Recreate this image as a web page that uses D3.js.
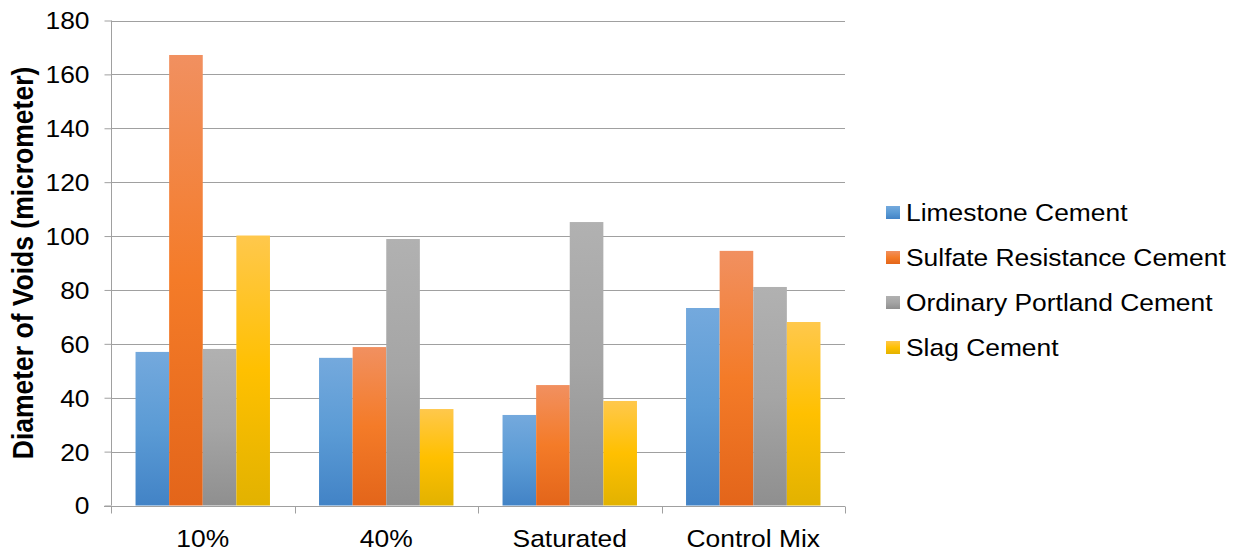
<!DOCTYPE html>
<html>
<head>
<meta charset="utf-8">
<script src="https://cdn.jsdelivr.net/npm/d3@7"></script>
<style>
  html, body { margin: 0; padding: 0; background: #fff; }
  svg { display: block; }
  text { font-family: "Liberation Sans", Arial, sans-serif; fill: #000; }
</style>
</head>
<body>
<svg id="chart" width="1243" height="550"></svg>
<script>
// Mix conditions along the x axis
const categories = ["10%", "40%", "Saturated", "Control Mix"];
// Cement types (legend order)
const seriesNames = ["Limestone Cement", "Sulfate Resistance Cement", "Ordinary Portland Cement", "Slag Cement"];
// Void diameters (micrometer), one array per cement type, in category order
const limestone = [57, 54.8, 33.6, 73.3];
const sulfate   = [167.2, 58.8, 44.7, 94.5];
const portland  = [58.1, 98.9, 105.2, 81.1];
const slag      = [100.2, 35.8, 38.8, 68.1];
const yTicks = [0, 20, 40, 60, 80, 100, 120, 140, 160, 180];
const yTitle = "Diameter of Voids (micrometer)";

const seriesValues = [limestone, sulfate, portland, slag];
// light / base / dark stops of each series' vertical gradient
const palette = [
  ["#74a9dd", "#5b9bd5", "#4283c6"],
  ["#f19060", "#f47b28", "#e3651a"],
  ["#b1b1b1", "#a5a5a5", "#8f8f8f"],
  ["#ffc84c", "#ffc000", "#e2b200"]
];

const svg = d3.select("#chart");
const sx = 1.1; // horizontal text stretch

const plot = { left: 111, right: 845, top: 20.5, bottom: 505.5 };

const x = d3.scaleBand().domain(categories).range([plot.left, plot.right]).paddingInner(0).paddingOuter(0);
const inner = d3.scaleBand().domain(d3.range(seriesNames.length))
  .range([0, x.bandwidth()]).paddingInner(0).paddingOuter(0.73);
const y = d3.scaleLinear().domain([0, 180]).range([plot.bottom, plot.top]);

// gradients
const defs = svg.append("defs");
palette.forEach((c, i) => {
  const g = defs.append("linearGradient").attr("id", "grad" + i)
    .attr("x1", 0).attr("y1", 0).attr("x2", 0).attr("y2", 1);
  g.append("stop").attr("offset", "0%").attr("stop-color", c[0]);
  g.append("stop").attr("offset", "50%").attr("stop-color", c[1]);
  g.append("stop").attr("offset", "100%").attr("stop-color", c[2]);
});

// horizontal gridlines
svg.append("g")
  .selectAll("line").data(yTicks.filter(t => t > 0)).join("line")
  .attr("x1", plot.left).attr("x2", plot.right)
  .attr("y1", d => Math.round(y(d)) + 0.5).attr("y2", d => Math.round(y(d)) + 0.5)
  .attr("stroke", "#a0a0a0").attr("stroke-width", 1);

// bars
const groups = svg.append("g").selectAll("g").data(seriesNames).join("g")
  .attr("fill", (d, i) => `url(#grad${i})`);
groups.selectAll("rect")
  .data((d, i) => categories.map((c, j) => ({ c, v: seriesValues[i][j], i })))
  .join("rect")
  .attr("x", d => x(d.c) + inner(d.i))
  .attr("width", inner.bandwidth())
  .attr("y", d => y(d.v))
  .attr("height", d => y(0) - y(d.v));

// y axis
const yAxis = d3.axisLeft(y).tickValues(yTicks).tickSize(7).tickPadding(15).tickFormat(d3.format("d"));
const yg = svg.append("g").attr("transform", `translate(${plot.left + 0.5},0)`).call(yAxis);
yg.select(".domain").attr("stroke", "#a0a0a0").attr("d", `M0,${plot.top}V${plot.bottom}`);
yg.selectAll(".tick line").attr("stroke", "#a0a0a0");
yg.selectAll(".tick text")
  .attr("font-size", 24).attr("font-family", "Liberation Sans, Arial, sans-serif")
  .attr("dy", "0.35em").attr("x", null)
  .attr("transform", `translate(-22,0) scale(${sx},1)`);

// x axis
const xAxis = d3.axisBottom(x).tickSize(0).tickPadding(0);
const xg = svg.append("g").attr("transform", `translate(0,${Math.round(plot.bottom) + 0.5})`).call(xAxis);
xg.select(".domain").attr("stroke", "#a0a0a0").attr("d", `M${plot.left - 7},0H${plot.right}`);
xg.selectAll(".tick text")
  .attr("font-size", 24).attr("font-family", "Liberation Sans, Arial, sans-serif")
  .attr("y", null).attr("dy", null)
  .attr("transform", `translate(0,40) scale(${sx},1)`);
// category boundary ticks
xg.append("g").selectAll("line")
  .data(d3.range(categories.length + 1)).join("line")
  .attr("x1", i => Math.round(plot.left + i * x.bandwidth()) + 0.5)
  .attr("x2", i => Math.round(plot.left + i * x.bandwidth()) + 0.5)
  .attr("y1", 0).attr("y2", 7)
  .attr("stroke", "#a0a0a0");

// y axis title
svg.append("text")
  .attr("transform", `translate(33,${(plot.top + plot.bottom) / 2}) scale(${sx},1) rotate(-90)`)
  .attr("text-anchor", "middle")
  .attr("font-size", 26.5).attr("font-weight", "bold")
  .text(yTitle);

// legend
const legend = svg.append("g").attr("transform", "translate(886,0)");
const rows = legend.selectAll("g").data(seriesNames).join("g")
  .attr("transform", (d, i) => `translate(0,${221 + i * 45})`);
rows.append("rect").attr("x", 0).attr("y", -15).attr("width", 14).attr("height", 13)
  .attr("fill", (d, i) => `url(#grad${i})`);
rows.append("text").attr("transform", `translate(20,0) scale(${sx},1)`)
  .attr("font-size", 24).text(d => d);
</script>
</body>
</html>
